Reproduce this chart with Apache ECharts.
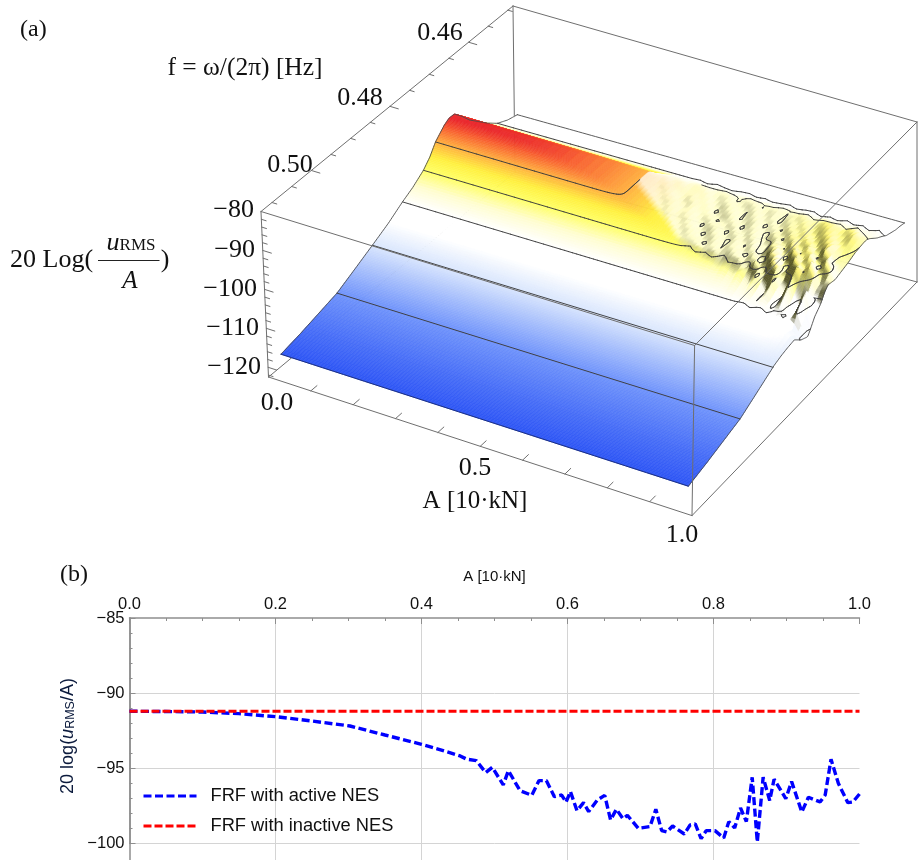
<!DOCTYPE html>
<html><head><meta charset="utf-8">
<style>html,body{margin:0;padding:0;background:#fff}#c{width:919px;height:860px;overflow:hidden}</style>
<script src="https://cdn.jsdelivr.net/npm/echarts@6/dist/echarts.min.js"></script></head>
<body><div id="c"></div>
<script>
/* ---------- panel (b) values ---------- */
const activeA = [0,.05,.1,.15,.2,.25,.302,.35,.4,.425,.453,.462,.475,.488,.497,.512,.519,.535,.551,.561,.571,.582,.592,.598,.604,.613,.622,.629,.641,.651,.659,.667,.676,.682,.697,.713,.721,.729,.736,.744,.76,.768,.775,.783,.79,.802,.814,.821,.829,.837,.845,.853,.86,.868,.877,.883,.899,.907,.921,.93,.946,.953,.961,.971,.984,.991,1];
const activeDb = [-91.2,-91.22,-91.25,-91.36,-91.56,-91.85,-92.18,-92.78,-93.4,-93.75,-94.17,-94.39,-94.48,-95.28,-94.93,-96.1,-95.15,-96.48,-96.79,-95.81,-95.81,-96.88,-96.77,-97.25,-96.54,-97.81,-97.28,-97.87,-97.1,-96.79,-98.43,-97.72,-98.34,-98.12,-98.98,-98.87,-97.72,-99.14,-99.23,-98.83,-99.36,-98.76,-98.69,-99.67,-99.14,-99.14,-99.63,-98.54,-98.96,-97.63,-98.54,-95.59,-99.89,-95.59,-97.14,-95.72,-97.01,-95.88,-97.9,-96.92,-97.23,-96.77,-94.39,-95.99,-97.28,-97.23,-96.7];
const inactiveA = [0,1];
const inactiveDb = [-91.2,-91.2];

/* ---------- panel (a) values, read against the box axes ---------- */
const freqs = [.5115,.5064,.4968,.4923,.4875,.4833,.4796,.4769,.4741,.4724,.4709,.4686,.4673,.4660,.4641,.4622,.4602,.4577,.4551,.4525,.4500];
const lowAmpDb = [-117,-115.9,-113.4,-111.2,-108.8,-106.6,-104.2,-102.7,-100.6,-98.6,-96,-93.6,-92.7,-92.8,-95,-97.5,-99.5,-102,-104.2,-105.5,-106.2];
const ridgeA = [0,.1,.2,.3,.4,.47,.55,.64,.72,.8,.88,.98];
const ridgeDb = [-92.3,-92.4,-92.8,-93.6,-94.9,-96,-98.5,-100.3,-100.3,-100.3,-99.5,-99];
const rippleA = [.5,.52,.54,.56,.58,.6,.62,.64,.66,.68,.7,.72,.74,.76,.78,.8,.82,.84,.86,.88,.9,.92,.94,.96,.98];
const rippleFreqs = [.4564,.4584,.4602,.4622,.4641,.4660,.4679,.4698,.4718,.4737,.4756,.4776,.4795,.4814,.4833,.4852,.4872];
const rippleF1 = [0,.1,-.2,.2,0,-.2,.1,.2,-.1,.1,-.2,0,.2,-.2,.1,.2,-.3,.1,-.2,.3,-.1,.2,-.4,.2,-.6];
const rippleF2 = [.1,-.2,.2,0,-.3,.2,.3,-.2,0,.3,-.2,.2,-.3,.1,.3,-.1,.2,-.4,.3,-.3,.2,-.4,.5,-.3,-1];
const rippleF3 = [0,.3,-.3,.2,.4,-.3,0,.4,-.4,.1,.4,-.3,.1,.4,-.3,.2,.5,-.3,-.5,.4,.1,-.6,.3,-.4,-1.2];
const rippleF4 = [.2,-.2,.4,-.3,.1,.4,-.5,.2,.4,-.2,-.3,.5,-.2,.3,-.5,.5,-.1,.5,-.6,.2,.6,-.4,-.6,.5,-1.5];
const rippleF5 = [-.2,.4,0,-.4,.5,-.1,.3,-.5,.2,.5,-.4,.1,.5,-.5,.2,-.4,.7,-.3,.6,-.8,.3,.7,-.7,-.5,-1.8];
const rippleF6 = [0,-.3,.4,.2,-.4,.4,-.3,.4,-.4,0,.5,-.5,.3,.2,-.6,.6,-.7,.9,-.2,.8,-1,.5,.9,-1.4,-2.5];
const rippleF7 = [0,0,-.3,.4,-.2,.5,.1,-.5,.4,.3,-.5,.4,-.3,.6,-.2,-.9,1,-.8,1.4,-1.2,1.2,-1.6,1.5,-2,-3];
const rippleF8 = [0,0,0,-.2,.4,-.3,.4,.2,-.5,.4,.1,-.5,.5,-.4,.6,-1.2,.8,1.2,-1.6,1.8,-.8,1.6,-2.5,1.2,-3.5];
const rippleF9 = [0,0,0,0,0,.2,-.4,.4,.2,-.5,.4,-.3,.5,.2,-.6,.9,-1.6,1.5,.6,-2,2,-1.5,2,-3.5,-3];
const rippleF10 = [0,0,0,0,0,0,0,0,-.3,.4,-.1,.5,-.5,.3,.6,-.9,1.2,-1.5,2,-1,-2,2.5,-1,-4,-4.5];
const rippleF11 = [0,0,0,0,0,0,0,0,0,0,0,0,-.3,.4,-.6,1,-1.2,1.8,-2.4,1.5,-2.5,1.8,-4,1,-5];
const rippleF12 = [0,0,0,0,0,0,0,0,0,0,0,0,0,0,-.2,.5,-.6,.8,-1.2,1,-1.8,.8,-4,.5,-7];
const rippleF13 = [0,0,0,0,0,0,0,0,0,0,0,0,0,0,0,0,0,-.2,.3,-.3,.4,-.8,.5,-3,-5];
const rippleF14 = [0,0,0,0,0,0,0,0,0,0,0,0,0,0,0,0,0,0,0,0,-.2,.2,-.5,-1,-2];
const rippleF15 = [0,0,0,0,0,0,0,0,0,0,0,0,0,0,0,0,0,0,0,0,0,0,-.2,-.4,-1];
const rippleF16 = [0,0,0,0,0,0,0,0,0,0,0,0,0,0,0,0,0,0,0,0,0,0,0,-.2,-.4];
const rippleF17 = [0,0,0,0,0,0,0,0,0,0,0,0,0,0,0,0,0,0,0,0,0,0,0,0,0];
const roughEdgeA = [.47,.56,.63,.71,.81,.98];
const roughEdgeF = [.4666,.4698,.4731,.4743,.475,.4807];
const contourDb = [-113.4,-108.8,-104.2,-100.6,-96];
const colorDb = [-117,-113.4,-108.8,-106.5,-104.2,-102.5,-100.6,-98.5,-96,-94,-92.7];
const colorHex = ['#2d55f5','#6f93fb','#d9e6fd','#ffffff','#ffffff','#fffdd0','#ffff66','#fff040','#ffb040','#f86030','#e8202a'];

/* box geometry: screen corners of the 3D frame [A, depth, height] */
const corner = {
  '000':[268.5,377],'100':[692,515.6],'010':[515,172],'110':[917,282],
  '001':[261,211.5],'101':[694.6,345.5],'011':[513,6],'111':[917,122]
};
const fFront=.5128, fBack=.4487, dbLow=-122.5, dbHigh=-80;
const toV=f=>(fFront-f)/(fFront-fBack);
const toW=d=>(d-dbLow)/(dbHigh-dbLow);
function project(a,v,w){
  let x=0,y=0;
  for(const ia of [0,1])for(const iv of [0,1])for(const iw of [0,1]){
    const k=(ia?a:1-a)*(iv?v:1-v)*(iw?w:1-w),p=corner[''+ia+iv+iw];
    x+=k*p[0];y+=k*p[1];
  }
  return [x,y];
}
function interp(xs,ys,x){
  if(x<=xs[0])return ys[0];
  for(let i=1;i<xs.length;i++)if(x<=xs[i]){const t=(x-xs[i-1])/(xs[i]-xs[i-1]);return ys[i-1]+t*(ys[i]-ys[i-1]);}
  return ys[ys.length-1];
}
const profV=freqs.map(toV);
const rippleRows=[rippleF1,rippleF2,rippleF3,rippleF4,rippleF5,rippleF6,rippleF7,rippleF8,rippleF9,rippleF10,rippleF11,rippleF12,rippleF13,rippleF14,rippleF15,rippleF16,rippleF17].reverse();
const rippleVAsc=rippleFreqs.map(toV).reverse();
const edgeV=roughEdgeF.map(toV);
function ripple(a,v){
  if(a<rippleA[0]||v<rippleVAsc[0])return 0;
  const last=rippleVAsc[rippleVAsc.length-1];
  const fade=v>last?Math.max(0,1-(v-last)/.08):1;
  if(fade===0)return 0;
  let i=0;while(i<rippleVAsc.length-2&&v>rippleVAsc[i+1])i++;
  const t=Math.min(1,(v-rippleVAsc[i])/(rippleVAsc[i+1]-rippleVAsc[i]));
  const c0=interp(rippleA,rippleRows[i],a),c1=interp(rippleA,rippleRows[i+1],a);
  return (c0+(c1-c0)*t)*fade;
}
function height(a,v){
  const p=interp(profV,lowAmpDb,v),c=interp(ridgeA,ridgeDb,a),k=.35;
  const m=Math.min(p,c);
  const s=m-k*Math.log(Math.exp((m-p)/k)+Math.exp((m-c)/k));
  return s+ripple(a,v);
}
const hexRgb=h=>[1,3,5].map(i=>parseInt(h.substr(i,2),16));
const colorRgb=colorHex.map(hexRgb);
const colorCh=[0,1,2].map(i=>colorRgb.map(c=>c[i]));
function colorAt(d){return colorCh.map(ch=>interp(colorDb,ch,d));}
const mix=(c,t,k)=>c.map((x,i)=>x+(t[i]-x)*k);
const clamp=(x,a,b)=>Math.max(a,Math.min(b,x));
function shade(a,v,d){
  let c=colorAt(d);
  if(a<.47)return c;
  const edge=interp(roughEdgeA,edgeV,a);
  const m=clamp((v-edge)/.025+.5,0,1);
  if(m<=0)return c;
  const pale=.66*(1-.6*clamp((a-.78)/.1,0,1));
  c=mix(c,[255,255,255],pale*m);
  const dv=.012,da=.008;
  const gv=(height(a,v+dv)-height(a,v-dv))/(2*dv);
  const ga=(height(a+da,v)-height(a-da,v))/(2*da);
  const g=(.01*gv+.005*ga)*m;
  if(g>0)c=mix(c,[70,70,30],Math.min(.9,g));
  else c=mix(c,[255,255,255],Math.min(.85,-g));
  return c;
}
/* mesh */
const meshA=[];for(let a=.02;a<.4;a+=.02)meshA.push(a);for(let a=.4;a<=.9801;a+=.01)meshA.push(a);
const meshV=[];
for(let v=.98;v>.82;v-=.008)meshV.push(v);
for(let v=.82;v>.58;v-=.003)meshV.push(v);
for(let v=.58;v>.40;v-=.006)meshV.push(v);
for(let v=.40;v>.02;v-=.004)meshV.push(v);
meshV.push(.02);
const cells=[],contours=[];
const wideA=[.02,.98];
for(let r=0;r<meshV.length-1;r++){
  const v1=meshV[r],v0=meshV[r+1];
  const colA=v1<=.40?wideA:meshA;
  for(let c=0;c<colA.length-1;c++){
    const a0=colA[c],a1=colA[c+1];
    const q=[[a0,v0],[a1,v0],[a1,v1],[a0,v1]].map(p=>{const h=height(p[0],p[1]);return {a:p[0],v:p[1],h};});
    const pts=q.map(p=>project(p.a,p.v,toW(p.h)));
    const rgb=shade((a0+a1)/2,(v0+v1)/2,(q[0].h+q[1].h+q[2].h+q[3].h)/4);
    for(const L of contourDb){
      if(v0>.73&&L>-104&&a0<.56)continue;
      const cross=[];
      for(let i=0;i<4;i++){
        const p=q[i],n=q[(i+1)%4];
        if((p.h<L)!==(n.h<L)){
          const t=(L-p.h)/(n.h-p.h);
          cross.push(project(p.a+t*(n.a-p.a),p.v+t*(n.v-p.v),toW(L)));
        }
      }
      if(cross.length>=2)contours.push([cross[0],cross[1]]);
      if(cross.length===4)contours.push([cross[2],cross[3]]);
    }
    cells.push({pts,fill:'rgb('+rgb.map(Math.round).join(',')+')'});
  }
}
function mapPts(api,pts){return pts.map(p=>api.coord(p));}
function surfaceItem(params,api){
  const c=cells[params.dataIndex];
  return {type:'polygon',shape:{points:mapPts(api,c.pts)},style:{fill:c.fill,stroke:c.fill,lineWidth:.6},silent:true};
}
function pathsSeries(name,paths,z,color,width){
  return {name,type:'custom',coordinateSystem:'cartesian2d',xAxisIndex:1,yAxisIndex:1,z,silent:true,animation:false,clip:false,progressive:0,
    data:paths.map((p,i)=>[p[0][0],p[0][1],i]),
    renderItem(params,api){
      return {type:'polyline',shape:{points:mapPts(api,paths[params.dataIndex])},style:{stroke:color,lineWidth:width,fill:null,lineCap:'round'},silent:true};
    }};
}
const edge=(k1,k2)=>[corner[k1],corner[k2]];
const backEdges=[edge('001','011'),edge('011','111'),edge('011','010'),edge('000','010'),edge('010','110'),edge('110','111')];
const frontEdges=[edge('001','101'),edge('101','100'),edge('101','111'),edge('000','100'),edge('001','000'),edge('100','110')];
/* ticks */
const tickA=[.1,.2,.3,.4,.5,.6,.7,.8,.9];
const tickF=[.51,.505,.5,.495,.49,.485,.48,.475,.47,.465,.46,.455,.45];
const tickDb=[-82,-84,-86,-88,-90,-92,-94,-96,-98,-100,-102,-104,-106,-108,-110,-112,-114,-116,-118,-120,-122];
const ticks=[];
tickA.forEach(a=>ticks.push([project(a,0,0),project(a,.025,0)]));
tickF.forEach(f=>{const v=toV(f),l=Math.round(f*1000)%20===0?.02:.011;ticks.push([project(0,v,1),project(l,v,1)]);});
tickDb.forEach(d=>{const w=toW(d),l=d%10===0?.02:.011;ticks.push([project(0,0,w),project(l,0,w)]);});
/* surface boundary */
const boundary=(n,fn)=>{const o=[];for(let i=0;i<n;i++)o.push(fn(i/(n-1)));return o;};
const backLine=boundary(90,t=>{const a=.02+.96*t;return project(a,.98,toW(height(a,.98)));});
const leftLine=boundary(193,t=>{const v=.02+.96*t;return project(.02,v,toW(height(.02,v)));});
const rightLine=boundary(193,t=>{const v=.02+.96*t;return project(.98,v,toW(height(.98,v)));});
const frontLine=boundary(40,t=>{const a=.02+.96*t;return project(a,.02,toW(height(a,.02)));});

const serif='"Liberation Serif"';
const T=(x,y,text,size,align='center',extra={})=>({type:'text',x,y,silent:true,style:Object.assign({text,font:size+'px '+serif,fill:'#111',align,verticalAlign:'middle'},extra)});
const fLabels=[['0.46',440,33],['0.48',360,98],['0.50',290,165]];
const dbLabels=[['−80',254,210],['−90',255,250],['−100',257,289],['−110',259,328],['−120',261,367]];
const aLabels=[['0.0',277,403],['0.5',475,468],['1.0',682,535]];
const elements=[
  T(20,30,'(a)',24,'left'),T(60,575,'(b)',24,'left'),
  T(245,68,'f = ω/(2π) [Hz]',25.5),
  T(475,501,'A [10·kN]',25),
  T(10,260,'20 Log(',26,'left'),
  T(165,260,')',26),
  {type:'line',silent:true,shape:{x1:98,y1:260.5,x2:159.5,y2:260.5},style:{stroke:'#222',lineWidth:1}},
  T(131,243,'{u|u}{r|RMS}',24,'center',{rich:{u:{font:'italic 26px '+serif,fill:'#111'},r:{font:'17px '+serif,fill:'#111',padding:[6,0,0,0]}}}),
  T(130,281,'A',25,'center',{font:'italic 25px '+serif}),
  ...fLabels.map(l=>T(l[1],l[2],l[0],26)),
  ...dbLabels.map(l=>T(l[1],l[2],l[0],26,'right')),
  ...aLabels.map(l=>T(l[1],l[2],l[0],26)),
  {type:'text',silent:true,x:68,y:736,rotation:Math.PI/2,style:{text:'{a|20 log(}{u|u}{r|RMS}{a|/A)}',align:'center',verticalAlign:'middle',
    rich:{a:{font:'18px "Liberation Sans"',fill:'#0b1a3c'},u:{font:'italic 18px "Liberation Sans"',fill:'#0b1a3c'},r:{font:'12.5px "Liberation Sans"',fill:'#0b1a3c',padding:[5,0,0,0]}}}}
];
const gray='#8e8e8e';
const option={
  animation:false,
  backgroundColor:'#fff',
  textStyle:{fontFamily:'"Liberation Sans"'},
  grid:[
    {left:129.5,top:618,width:730,height:225.6,show:false},
    {left:0,top:0,width:919,height:860,show:false},
    {left:129.5,top:618,width:730,height:242,show:false}
  ],
  xAxis:[
    {type:'value',gridIndex:0,min:0,max:1,show:false},
    {type:'value',gridIndex:1,min:0,max:919,show:false},
    {type:'value',gridIndex:2,position:'top',min:0,max:1,interval:.2,name:'A [10·kN]',nameLocation:'middle',nameGap:34,
     nameTextStyle:{fontSize:15,color:'#111'},
     axisLine:{lineStyle:{color:gray,width:1.5}},axisTick:{inside:true,length:6,lineStyle:{color:gray}},
     minorTick:{show:true,splitNumber:4,length:3,lineStyle:{color:gray}},
     axisLabel:{fontSize:16.5,color:'#111',margin:5,formatter:v=>v.toFixed(1),showMaxLabel:true,showMinLabel:true},
     splitLine:{show:true,showMinLine:false,showMaxLine:false,lineStyle:{color:'#d4d4d4',width:1}}}
  ],
  yAxis:[
    {type:'value',gridIndex:0,min:-100,max:-85,interval:5,
     axisLine:{show:true,lineStyle:{color:gray,width:1.5}},axisTick:{show:true,inside:true,length:6,lineStyle:{color:gray}},
     minorTick:{show:true,splitNumber:5,length:3,lineStyle:{color:gray}},
     axisLabel:{fontSize:16.5,color:'#111',margin:5,showMinLabel:true,showMaxLabel:true,formatter:v=>String(v).replace('-','−')},
     splitLine:{show:true,showMinLine:true,showMaxLine:false,lineStyle:{color:'#d4d4d4',width:1}}},
    {type:'value',gridIndex:1,min:0,max:860,inverse:true,show:false},
    {type:'value',gridIndex:2,min:-101,max:-85,interval:16,
     axisLine:{show:true,lineStyle:{color:gray,width:1.5}},axisTick:{show:false},axisLabel:{show:false},splitLine:{show:false}}
  ],
  legend:{orient:'vertical',left:137,top:782,itemWidth:53,itemHeight:14,itemGap:12,itemStyle:{opacity:0},
    lineStyle:{width:3},
    data:['FRF with active NES','FRF with inactive NES'],textStyle:{fontSize:18.3,color:'#111',padding:[0,0,0,9]}},
  graphic:{elements},
  series:[
    {name:'FRF with active NES',type:'line',xAxisIndex:0,yAxisIndex:0,showSymbol:false,symbol:'none',z:5,
     data:activeA.map((a,i)=>[a,activeDb[i]]),lineStyle:{color:'#0000ff',width:3.4,type:[8,3.5]},itemStyle:{color:'#0000ff'}},
    {name:'FRF with inactive NES',type:'line',xAxisIndex:0,yAxisIndex:0,showSymbol:false,symbol:'none',z:6,
     data:inactiveA.map((a,i)=>[a,inactiveDb[i]]),lineStyle:{color:'#ff0000',width:3,type:[8,3]},itemStyle:{color:'#ff0000'}},
    pathsSeries('boxBack',backEdges,1,'#6f6f6f',1),
    {name:'surface',type:'custom',coordinateSystem:'cartesian2d',xAxisIndex:1,yAxisIndex:1,z:2,silent:true,animation:false,clip:false,progressive:0,
     data:cells.map(c=>[c.pts[0][0],c.pts[0][1]]),renderItem:surfaceItem},
    pathsSeries('contours',contours,3,'#3c3c3c',.95),
    pathsSeries('outline',[leftLine,rightLine,backLine],3,'#4a4a4a',.9),
    pathsSeries('frontOutline',[frontLine],3,'#1c2f80',1),
    pathsSeries('boxFront',frontEdges,4,'#6f6f6f',1),
    pathsSeries('ticks',ticks,4,'#6f6f6f',1)
  ]
};
const chart=echarts.init(document.getElementById('c'),null,{renderer:'canvas',width:919,height:860});
chart.setOption(option);
</script></body></html>
